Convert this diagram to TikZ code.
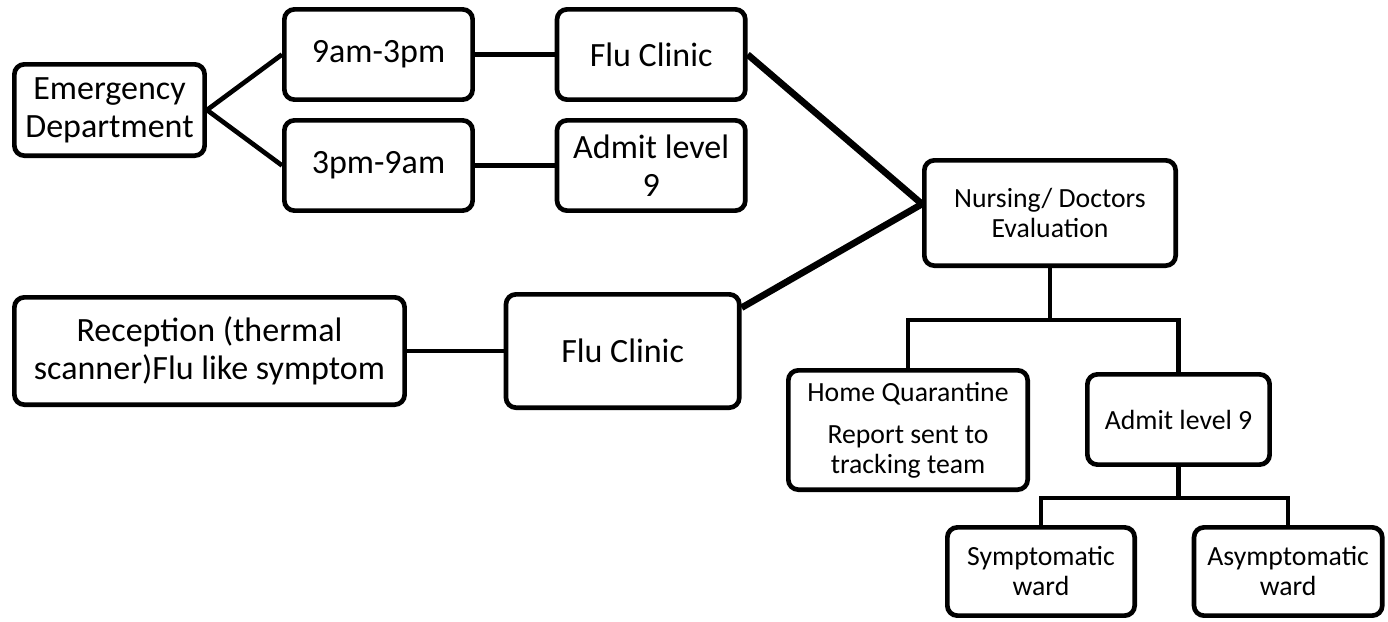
\documentclass[tikz,border=0pt]{standalone}
\usepackage{fontspec}
\setmainfont{Carlito}
\usetikzlibrary{positioning}

\begin{document}
\begin{tikzpicture}[x=0.75pt, y=-0.75pt,
                    bignode/.style={rectangle, draw=black, line width=3.5pt, rounded corners=7.5pt, align=center, inner sep=0pt,
                                    font=\fontsize{25.5}{28.5}\selectfont, minimum width=141.2pt, minimum height=67.7pt},
                    smallnode/.style={bignode, font=\fontsize{20.8}{22.5}\selectfont},
                    link/.style={draw=black, line width=3.5pt},]
    \useasboundingbox (0,0) rectangle (1388,621);
    % nodes
    \node[bignode, minimum width=142.7pt, minimum height=68.5pt] (ed) at (109.5,110) {Emergency\\Department};
    \node[bignode]       (nine)      at (378.5,54.5)                {9am-3pm};
    \node[bignode]       (three)     at (378.5,165.5)               {3pm-9am};
    \node[bignode]       (fluTop)    [right=59.8pt of nine]         {Flu Clinic};
    \node[bignode]       (admitTop)  [right=59.8pt of three]        {Admit level\\9};
    \node[bignode, minimum width=292.7pt, minimum height=80.5pt] (recep) at (209.5,351) {Reception (thermal\\scanner)Flu like symptom};
    \node[bignode, minimum width=175pt, minimum height=85pt]     (fluBot) [right=72.5pt of recep] {Flu Clinic};
    \node[smallnode, minimum width=188.5pt, minimum height=79pt] (nurse) at (1050,213) {Nursing/ Doctors\\Evaluation};
    \node[smallnode, minimum width=179.5pt, minimum height=89.5pt] (home) at (908,430) {Home Quarantine\\[9pt]Report sent to\\tracking team};
    \node[smallnode, minimum width=136.7pt]  (admitBot)  at (1178.5,419.5)  {Admit level 9};
    \node[smallnode, minimum width=140.5pt, minimum height=66.2pt] (sym) at (1041,571.5) {Symptomatic\\ward};
    \node[smallnode, minimum height=66.2pt]  (asym)  [right=41pt of sym]  {Asymptomatic\\ward};
    \coordinate (fork)  at (1050,320);
    \coordinate (fork2) at (1178.5,498);
    % lines
    \draw[link] (ed.east) -- (nine.west);
    \draw[link] (ed.east) -- (three.west);
    \draw[link] (nine) -- (fluTop);
    \draw[link] (three) -- (admitTop);
    \draw[link] (recep) -- (fluBot);
    \draw[link, line width=5pt] (fluTop.east) -- (nurse.176);
    \draw[link, line width=5pt] (fluBot.20) -- (nurse.176);
    \draw[link] (nurse.south) -- (fork);
    \draw[link] (home.north) |- (fork) -| (admitBot.north);
    \draw[link] (admitBot.south) -- (fork2);
    \draw[link] (sym.north) |- (fork2) -| (asym.north);
\end{tikzpicture}
\end{document}
